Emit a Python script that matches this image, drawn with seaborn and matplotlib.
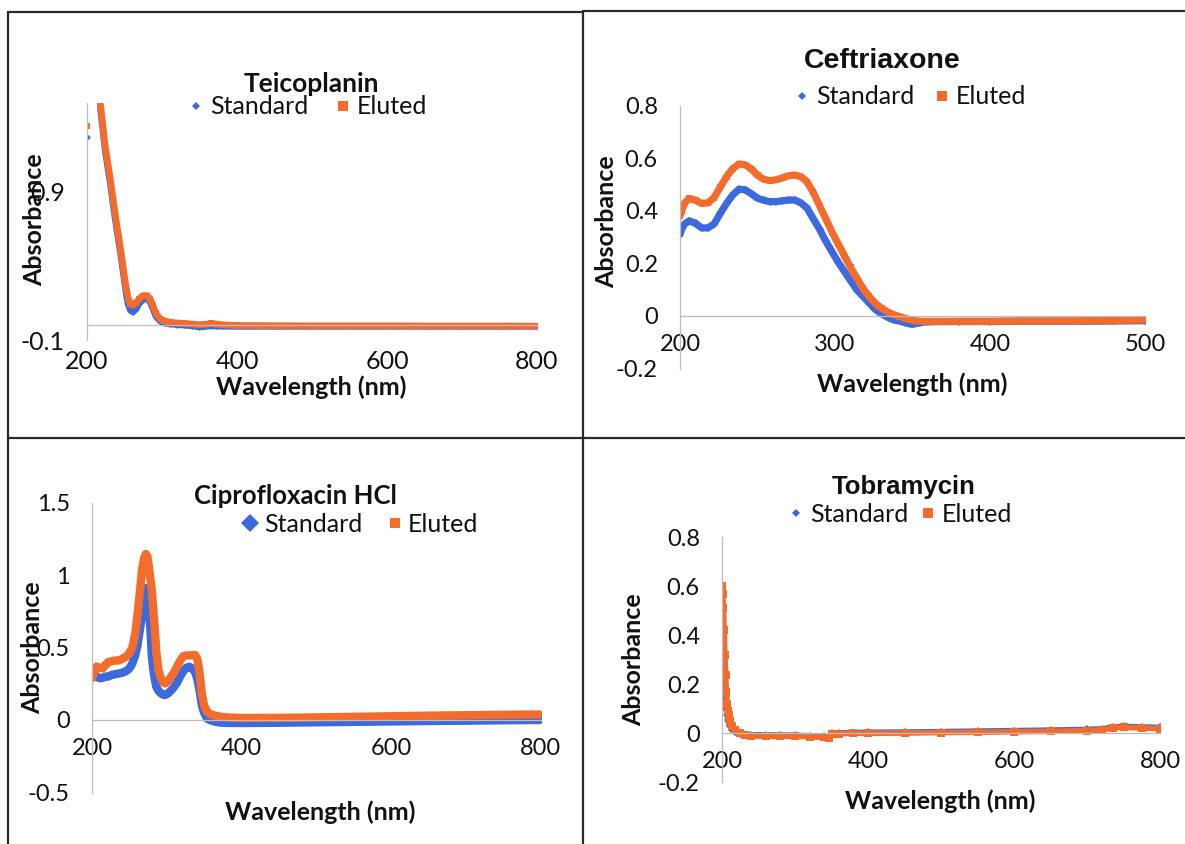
import numpy as np
import pandas as pd
import matplotlib
matplotlib.use("Agg")
import matplotlib.pyplot as plt
from matplotlib.lines import Line2D
import seaborn as sns

# ---------------- spectra (wavelength in nm, absorbance) ----------------
# NaN marks readings above the axis maximum (not drawn, breaks the trace)

teic_wl = [200, 210, 218, 220, 222, 224, 227, 231, 234, 237, 240, 244, 248, 251,
           253, 255, 258, 261, 265, 270, 275, 280, 284, 288, 292, 297, 303, 311,
           320, 330, 340, 350, 358, 365, 372, 380, 400, 450, 500, 550, 600, 650,
           700, 750, 800]
teic_std = [1.27, np.nan, 1.46, 1.37, 1.28, 1.19, 1.09, 0.96, 0.85, 0.74, 0.64,
            0.51, 0.37, 0.26, 0.19, 0.14, 0.10, 0.09, 0.11, 0.15, 0.175, 0.18,
            0.16, 0.11, 0.06, 0.03, 0.015, 0.008, 0.004, 0.0, -0.004, -0.012,
            -0.008, -0.004, -0.006, -0.007, -0.008, -0.008, -0.008, -0.008,
            -0.008, -0.008, -0.008, -0.008, -0.008]
teic_elu = [1.345, np.nan, 1.49, 1.40, 1.31, 1.22, 1.12, 0.99, 0.88, 0.77, 0.67,
            0.54, 0.40, 0.29, 0.23, 0.18, 0.145, 0.135, 0.15, 0.18, 0.20, 0.20,
            0.18, 0.13, 0.08, 0.045, 0.03, 0.02, 0.015, 0.012, 0.008, 0.003,
            0.006, 0.012, 0.008, 0.003, -0.002, -0.003, -0.004, -0.004, -0.004,
            -0.005, -0.005, -0.005, -0.006]

ceft_wl = [200, 201, 203, 206, 210, 214, 218, 222, 226, 230, 234, 238, 242, 246,
           250, 254, 258, 262, 266, 270, 274, 278, 282, 286, 290, 294, 298, 302,
           306, 310, 314, 318, 322, 326, 330, 334, 338, 342, 346, 350, 355, 360,
           380, 400, 420, 440, 460, 480, 500]
ceft_std = [0.31, 0.33, 0.35, 0.362, 0.352, 0.335, 0.335, 0.35, 0.39, 0.428, 0.46,
            0.482, 0.48, 0.465, 0.448, 0.44, 0.435, 0.435, 0.438, 0.441, 0.441,
            0.43, 0.41, 0.37, 0.33, 0.285, 0.245, 0.205, 0.17, 0.135, 0.10, 0.075,
            0.05, 0.025, 0.008, -0.005, -0.015, -0.02, -0.027, -0.032, -0.025,
            -0.022, -0.021, -0.021, -0.02, -0.02, -0.02, -0.019, -0.018]
ceft_elu = [0.38, 0.40, 0.43, 0.447, 0.44, 0.428, 0.43, 0.45, 0.49, 0.53, 0.56,
            0.578, 0.575, 0.56, 0.535, 0.52, 0.515, 0.518, 0.525, 0.533, 0.536,
            0.53, 0.51, 0.47, 0.42, 0.37, 0.32, 0.275, 0.23, 0.185, 0.145, 0.105,
            0.075, 0.048, 0.03, 0.015, 0.005, -0.003, -0.01, -0.017, -0.02, -0.02,
            -0.02, -0.02, -0.019, -0.019, -0.018, -0.017, -0.015]

cipro_wl = [200, 203, 206, 210, 214, 218, 222, 226, 230, 235, 240, 245, 250, 254,
            258, 261, 264, 267, 270, 272, 274, 276, 278, 280, 282, 284, 286, 289,
            292, 295, 298, 302, 306, 310, 314, 318, 322, 326, 330, 334, 338, 341,
            344, 347, 350, 354, 358, 365, 372, 380, 400, 450, 500, 550, 600, 650,
            700, 750, 800]
cipro_std = [0.33, 0.32, 0.30, 0.288, 0.29, 0.30, 0.30, 0.31, 0.315, 0.32, 0.325,
             0.335, 0.355, 0.39, 0.45, 0.52, 0.62, 0.72, 0.85, 0.91, 0.86, 0.78,
             0.64, 0.44, 0.35, 0.28, 0.23, 0.20, 0.185, 0.175, 0.172, 0.185,
             0.205, 0.23, 0.26, 0.30, 0.335, 0.36, 0.368, 0.355, 0.33, 0.28, 0.20,
             0.10, 0.05, 0.01, -0.002, -0.012, -0.018, -0.02, -0.021, -0.019,
             -0.016, -0.013, -0.01, -0.007, -0.005, -0.002, 0.0]
cipro_elu = [0.29, 0.33, 0.368, 0.36, 0.356, 0.38, 0.40, 0.405, 0.41, 0.41, 0.42,
             0.435, 0.46, 0.50, 0.60, 0.73, 0.88, 1.04, 1.12, 1.145, 1.13, 1.06,
             0.98, 0.90, 0.76, 0.63, 0.47, 0.34, 0.29, 0.26, 0.253, 0.27, 0.30,
             0.33, 0.37, 0.41, 0.44, 0.445, 0.445, 0.448, 0.448, 0.42, 0.32, 0.18,
             0.10, 0.057, 0.04, 0.03, 0.023, 0.018, 0.014, 0.015, 0.018, 0.022,
             0.026, 0.03, 0.033, 0.036, 0.038]

tobra_wl = [200, 201, 202, 203, 204, 205, 206, 207, 208, 209, 211, 214, 218, 224,
            232, 240, 260, 280, 300, 320, 340, 346, 350, 360, 380, 400, 450, 500,
            550, 600, 650, 700, 720, 735, 750, 775, 800]
tobra_std = [0.53, 0.44, 0.35, 0.27, 0.20, 0.15, 0.10, 0.075, 0.055, 0.045, 0.03,
             0.015, 0.005, -0.003, -0.005, -0.006, -0.006, -0.007, -0.008, -0.01,
             -0.012, -0.013, 0.0, 0.002, 0.003, 0.004, 0.005, 0.007, 0.009, 0.011,
             0.013, 0.016, 0.018, 0.026, 0.028, 0.026, 0.024]
tobra_elu = [0.60, 0.57, 0.51, 0.42, 0.32, 0.24, 0.17, 0.12, 0.09, 0.075, 0.05,
             0.03, 0.012, 0.0, -0.008, -0.011, -0.012, -0.012, -0.012, -0.014,
             -0.017, -0.018, -0.002, -0.001, 0.0, 0.0, 0.001, 0.003, 0.004, 0.006,
             0.008, 0.011, 0.013, 0.022, 0.024, 0.021, 0.019]

series_labels = ["Standard", "Eluted"]

# ---------------- styling ----------------
W, H = 1185, 844
sns.set_style("white")
plt.rcParams["font.family"] = ["Lato", "DejaVu Sans"]
plt.rcParams["axes.unicode_minus"] = False

BLUE = "#3D69DE"
ORANGE = "#F46C2C"
AXIS_GREY = "#BDBDBD"
TEXT = "#111111"
CALIBRI_LIKE = ["Lato", "DejaVu Sans"]
ARIAL_LIKE = ["Liberation Sans", "DejaVu Sans"]

fig = plt.figure(figsize=(W / 100, H / 100), dpi=100)


def fx(px):
    return px / W


def fy(py):
    return 1 - py / H


def series_frame(wl, values):
    df = pd.DataFrame({"wavelength": wl, "absorbance": values})
    df["run"] = df["absorbance"].isna().cumsum()
    return df.dropna()


def panel(box, xlim, ylim, xticks, yticks, yticklabels, std, elu, lw,
          blue_ms, orange_ms, title, title_xy, title_family, title_size,
          legend_xy, legend_ms, ylabel_xy, xlabel_xy, tick_size, xpad,
          legend_size=18, colspace=1.0):
    left, right, top, bottom = box
    ax = fig.add_axes([fx(left), fy(bottom), (right - left) / W, (bottom - top) / H])
    for (wl, vals), color, marker, ms in ((std, BLUE, "D", blue_ms),
                                          (elu, ORANGE, "s", orange_ms)):
        df = series_frame(wl, vals)
        sns.lineplot(data=df, x="wavelength", y="absorbance", units="run",
                     estimator=None, sort=False, color=color, lw=lw,
                     marker=marker, markersize=ms, markeredgewidth=0,
                     solid_capstyle="round", solid_joinstyle="round",
                     legend=False, ax=ax)
    ax.set_xlim(*xlim)
    ax.set_ylim(*ylim)
    ax.set_xticks(xticks)
    ax.set_xticklabels([str(t) for t in xticks])
    ax.set_yticks(yticks)
    ax.set_yticklabels(yticklabels)
    for side in ("top", "right"):
        ax.spines[side].set_visible(False)
    ax.spines["bottom"].set_position(("data", 0))
    for side in ("left", "bottom"):
        ax.spines[side].set_color(AXIS_GREY)
        ax.spines[side].set_linewidth(0.9)
    ax.tick_params(axis="both", direction="out", length=4, width=0.9,
                   color=AXIS_GREY, labelsize=tick_size, labelcolor=TEXT)
    ax.tick_params(axis="y", pad=12)
    ax.tick_params(axis="x", pad=xpad)
    ax.patch.set_alpha(0)

    ax.set_xlabel("Wavelength (nm)", fontsize=18, fontweight="bold", color=TEXT)
    ax.set_ylabel("Absorbance", fontsize=18, fontweight="bold", color=TEXT)
    ax.xaxis.set_label_coords(fx(xlabel_xy[0]), fy(xlabel_xy[1]), transform=fig.transFigure)
    ax.yaxis.set_label_coords(fx(ylabel_xy[0]), fy(ylabel_xy[1]), transform=fig.transFigure)
    ax.xaxis.label.set_va("center")
    ax.yaxis.label.set_va("center")

    fig.text(fx(title_xy[0]), fy(title_xy[1]), title, ha="center", va="center",
             fontsize=title_size, fontweight="bold", family=title_family, color=TEXT)

    handles = [Line2D([], [], ls="none", marker="D", color=BLUE, markersize=legend_ms[0],
                      markeredgewidth=0, label=series_labels[0]),
               Line2D([], [], ls="none", marker="s", color=ORANGE, markersize=legend_ms[1],
                      markeredgewidth=0, label=series_labels[1])]
    ax.legend(handles=handles, loc="center left", ncol=2, frameon=False,
              bbox_to_anchor=(fx(legend_xy[0]), fy(legend_xy[1])),
              bbox_transform=fig.transFigure, fontsize=legend_size, handlelength=0.6,
              handletextpad=0.25, columnspacing=colspace, borderpad=0,
              borderaxespad=0, labelcolor=TEXT)
    return ax


panel((87, 537, 103, 340), (200, 800), (-0.1, 1.5), [200, 400, 600, 800],
      [-0.1, 0.9], ["-0.1", "0.9"], (teic_wl, teic_std), (teic_wl, teic_elu),
      lw=4.8, blue_ms=3.5, orange_ms=3.8,
      title="Teicoplanin", title_xy=(311, 84), title_family=CALIBRI_LIKE, title_size=19,
      legend_xy=(188.5, 107), legend_ms=(4.5, 6.5), ylabel_xy=(35, 220),
      xlabel_xy=(311, 387), tick_size=18, xpad=14, colspace=1.1)

panel((680, 1145, 105.6, 368.6), (200, 500), (-0.2, 0.8), [200, 300, 400, 500],
      [-0.2, 0, 0.2, 0.4, 0.6, 0.8], ["-0.2", "0", "0.2", "0.4", "0.6", "0.8"],
      (ceft_wl, ceft_std), (ceft_wl, ceft_elu),
      lw=5.2, blue_ms=3.8, orange_ms=4,
      title="Ceftriaxone", title_xy=(882, 61), title_family=ARIAL_LIKE, title_size=20.5,
      legend_xy=(794.5, 97), legend_ms=(4.5, 6.5), ylabel_xy=(607, 222),
      xlabel_xy=(912, 384), tick_size=17, xpad=9, colspace=0.8)

panel((92, 540.5, 502.5, 792.5), (200, 800), (-0.5, 1.5), [200, 400, 600, 800],
      [-0.5, 0, 0.5, 1, 1.5], ["-0.5", "0", "0.5", "1", "1.5"],
      (cipro_wl, cipro_std), (cipro_wl, cipro_elu),
      lw=6, blue_ms=4.5, orange_ms=5,
      title="Ciprofloxacin HCl", title_xy=(295, 496), title_family=CALIBRI_LIKE, title_size=18.5,
      legend_xy=(242.5, 524), legend_ms=(9.5, 7), ylabel_xy=(33, 648),
      xlabel_xy=(320, 812), tick_size=17, xpad=9, colspace=1.0)

panel((722, 1160, 537.3, 782.3), (200, 800), (-0.2, 0.8), [200, 400, 600, 800],
      [-0.2, 0, 0.2, 0.4, 0.6, 0.8], ["-0.2", "0", "0.2", "0.4", "0.6", "0.8"],
      (tobra_wl, tobra_std), (tobra_wl, tobra_elu),
      lw=4, blue_ms=4.5, orange_ms=5.5,
      title="Tobramycin", title_xy=(904, 487), title_family=ARIAL_LIKE, title_size=18.5,
      legend_xy=(788.5, 514), legend_ms=(4.5, 6.5), ylabel_xy=(634, 660),
      xlabel_xy=(940, 801), tick_size=17, xpad=9, colspace=0.5)

# table-cell borders around the four charts
border = dict(color="#2a2a2a", lw=1.6, transform=fig.transFigure)
fig.add_artist(Line2D([fx(8), fx(583)], [fy(12), fy(12)], **border))
fig.add_artist(Line2D([fx(583), fx(1185)], [fy(11), fy(11)], **border))
fig.add_artist(Line2D([fx(8), fx(8)], [fy(12), fy(844)], **border))
fig.add_artist(Line2D([fx(583), fx(583)], [fy(11), fy(844)], **border))
fig.add_artist(Line2D([fx(8), fx(1185)], [fy(438), fy(438)], **border))

fig.savefig("out.png", dpi=100)
